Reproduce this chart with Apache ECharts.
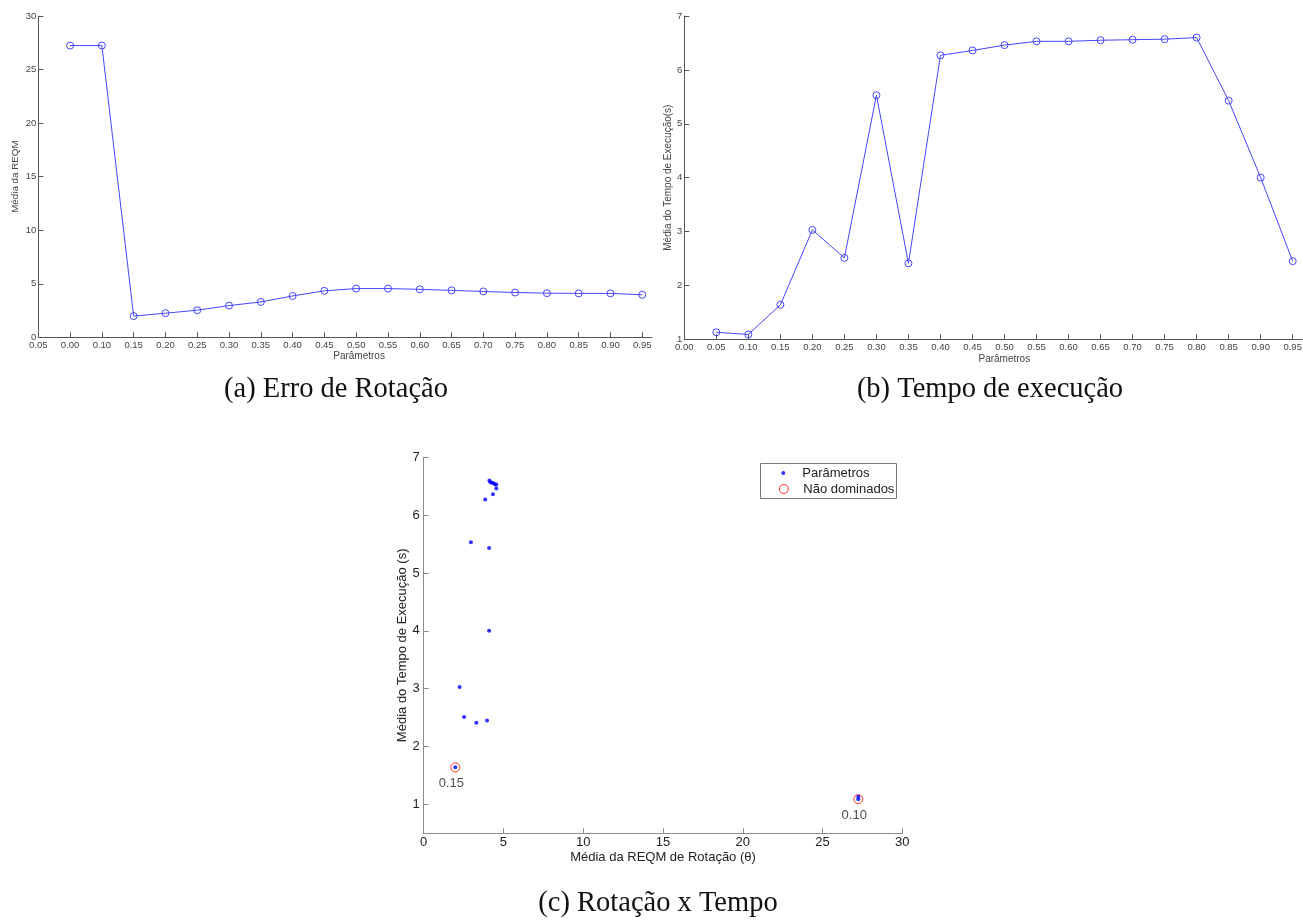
<!DOCTYPE html>
<html>
<head>
<meta charset="utf-8">
<script src="https://cdn.jsdelivr.net/npm/echarts@6/dist/echarts.min.js"></script>
<style>
html,body{margin:0;padding:0;background:#fff;}
#chart{width:1303px;height:922px;}
</style>
</head>
<body>
<div id="chart"></div>
<script>
// ---- data ----
var params = ['0.05','0.10','0.15','0.20','0.25','0.30','0.35','0.40','0.45','0.50',
              '0.55','0.60','0.65','0.70','0.75','0.80','0.85','0.90','0.95'];
var reqm = [27.24, 27.24, 1.98, 2.25, 2.53, 2.96, 3.3, 3.86, 4.34, 4.55,
            4.55, 4.48, 4.38, 4.28, 4.18, 4.12, 4.1, 4.1, 3.97];
var tempo = [1.13, 1.09, 1.64, 3.03, 2.51, 5.53, 2.41, 6.27, 6.36, 6.46,
             6.53, 6.53, 6.55, 6.56, 6.57, 6.60, 5.43, 4.00, 2.45];
var labelsA = ['0.05','0.00','0.10','0.15','0.20','0.25','0.30','0.35','0.40','0.45',
               '0.50','0.55','0.60','0.65','0.70','0.75','0.80','0.85','0.90','0.95'];
var labelsB = ['0.00','0.05','0.10','0.15','0.20','0.25','0.30','0.35','0.40','0.45',
               '0.50','0.55','0.60','0.65','0.70','0.75','0.80','0.85','0.90','0.95'];
var nonDominated = ['0.10','0.15'];
var captions = ['(a) Erro de Rotação','(b) Tempo de execução','(c) Rotação x Tempo'];

// ---- build ----
var tickPos = labelsA.map(function(_, i){ return i; });
var lineA = reqm.map(function(v, i){ return [i + 1, v]; });
var lineB = tempo.map(function(v, i){ return [i + 1, v]; });
var scatterAll = reqm.map(function(v, i){ return [v, tempo[i]]; });
var scatterND = nonDominated.map(function(p){
  var i = params.indexOf(p);
  return { value: [reqm[i], tempo[i]], name: p };
});

var SANS = 'Liberation Sans, Arial, sans-serif';
var smallText = { fontFamily: SANS, fontSize: 9.5, color: '#444' };
var bigText = { fontFamily: SANS, fontSize: 13, color: '#222' };
var LINE_BLUE = '#4646ff';

function smallX(labels, nameShift){
  return {
    type: 'value', min: 0, max: 19.3,
    axisLine: { lineStyle: { color: '#555', width: 1 } },
    axisTick: { inside: true, length: 5, customValues: tickPos, lineStyle: { color: '#555' } },
    axisLabel: Object.assign({ margin: 3, customValues: tickPos,
      formatter: function(v){ return labels[Math.round(v)]; } }, smallText),
    splitLine: { show: false },
    name: 'Parâmetros', nameLocation: 'middle', nameGap: 14,
    nameTextStyle: { fontFamily: SANS, fontSize: 10, color: '#444', padding: [0, 0, 0, nameShift] }
  };
}

function lineSeries(idx, data){
  return {
    type: 'line', xAxisIndex: idx, yAxisIndex: idx, data: data,
    symbol: 'circle', symbolSize: 7,
    lineStyle: { color: LINE_BLUE, width: 1 },
    itemStyle: { color: 'rgba(255,255,255,0)', borderColor: LINE_BLUE, borderWidth: 1 }
  };
}

var option = {
  backgroundColor: '#fff',
  animation: false,
  grid: [
    { left: 38.3, top: 16, width: 613.5, height: 321.3, outerBoundsMode: 'none', containLabel: false },
    { left: 684.3, top: 16, width: 618, height: 323.3, outerBoundsMode: 'none', containLabel: false },
    { left: 423.7, top: 457.3, width: 478.6, height: 376, outerBoundsMode: 'none', containLabel: false }
  ],
  xAxis: [
    Object.assign(smallX(labelsA, 28), { gridIndex: 0 }),
    Object.assign(smallX(labelsB, 22), { gridIndex: 1, nameGap: 15 }),
    {
      gridIndex: 2, type: 'value', min: 0, max: 30, interval: 5,
      axisLine: { lineStyle: { color: '#8c8c8c', width: 1 } },
      axisTick: { inside: true, length: 5, lineStyle: { color: '#8c8c8c' } },
      axisLabel: Object.assign({ margin: 3 }, bigText),
      splitLine: { show: false },
      name: 'Média da REQM de Rotação (θ)', nameLocation: 'middle', nameGap: 18,
      nameTextStyle: bigText
    }
  ],
  yAxis: [
    {
      gridIndex: 0, type: 'value', min: 0, max: 30, interval: 5,
      axisLine: { show: true, lineStyle: { color: '#555', width: 1 } },
      axisTick: { show: true, inside: true, length: 5, lineStyle: { color: '#555' } },
      axisLabel: Object.assign({ margin: 2 }, smallText),
      splitLine: { show: false },
      name: 'Média da REQM', nameLocation: 'middle', nameGap: 18,
      nameTextStyle: { fontFamily: SANS, fontSize: 9.8, color: '#444' }
    },
    {
      gridIndex: 1, type: 'value', min: 1, max: 7, interval: 1,
      axisLine: { show: true, lineStyle: { color: '#555', width: 1 } },
      axisTick: { show: true, inside: true, length: 5, lineStyle: { color: '#555' } },
      axisLabel: Object.assign({ margin: 2 }, smallText),
      splitLine: { show: false },
      name: 'Média do Tempo de Execução(s)', nameLocation: 'middle', nameGap: 11,
      nameTextStyle: { fontFamily: SANS, fontSize: 10, color: '#444' }
    },
    {
      gridIndex: 2, type: 'value', min: 0.5, max: 7,
      axisLine: { show: true, lineStyle: { color: '#8c8c8c', width: 1 } },
      axisTick: { show: true, inside: true, length: 5, customValues: [1,2,3,4,5,6,7], lineStyle: { color: '#8c8c8c' } },
      axisLabel: Object.assign({ margin: 4, customValues: [1,2,3,4,5,6,7] }, bigText),
      splitLine: { show: false },
      name: 'Média do Tempo de Execução (s)', nameLocation: 'middle', nameGap: 15,
      nameTextStyle: bigText
    }
  ],
  legend: [
    {
      data: [{ name: 'Parâmetros', icon: 'circle', itemStyle: { color: '#0000ff' } }],
      left: 781.3, top: 466, orient: 'vertical', padding: 0,
      itemWidth: 4, itemHeight: 4, selectedMode: false,
      textStyle: { fontFamily: SANS, fontSize: 13, color: '#222', lineHeight: 14, padding: [0, 0, 0, 12] }
    },
    {
      data: [{ name: 'Não dominados', icon: 'circle',
               itemStyle: { color: 'rgba(255,255,255,0)', borderColor: '#ff0000', borderWidth: 1 } }],
      left: 778.8, top: 482, orient: 'vertical', padding: 0,
      itemWidth: 9, itemHeight: 9, selectedMode: false,
      textStyle: { fontFamily: SANS, fontSize: 13, color: '#222', lineHeight: 14, padding: [0, 0, 0, 10] }
    }
  ],
  graphic: [
    { type: 'rect', shape: { x: 760.5, y: 463.5, width: 136, height: 35 },
      style: { fill: 'none', stroke: '#777', lineWidth: 1 }, z: 0 },
    { type: 'text', x: 336, y: 390, style: { text: captions[0], font: '28.5px "Liberation Serif", serif', fill: '#111', textAlign: 'center', textVerticalAlign: 'middle' } },
    { type: 'text', x: 990, y: 390, style: { text: captions[1], font: '28.5px "Liberation Serif", serif', fill: '#111', textAlign: 'center', textVerticalAlign: 'middle' } },
    { type: 'text', x: 658, y: 904, style: { text: captions[2], font: '28.5px "Liberation Serif", serif', fill: '#111', textAlign: 'center', textVerticalAlign: 'middle' } }
  ],
  series: [
    lineSeries(0, lineA),
    lineSeries(1, lineB),
    {
      name: 'Não dominados', type: 'scatter', xAxisIndex: 2, yAxisIndex: 2, data: scatterND,
      symbol: 'circle', symbolSize: 9, z: 2,
      itemStyle: { color: 'rgba(255,255,255,0)', borderColor: '#ff0000', borderWidth: 1 },
      label: { show: true, position: 'bottom', distance: 5, offset: [-4, 0],
        formatter: function(p){ return p.name; }, fontFamily: SANS, fontSize: 13, color: '#222' }
    },
    {
      name: 'Parâmetros', type: 'scatter', xAxisIndex: 2, yAxisIndex: 2, data: scatterAll,
      symbol: 'circle', symbolSize: 4, z: 3,
      itemStyle: { color: '#0000ff' }
    }
  ]
};

var chart = echarts.init(document.getElementById('chart'), null, { renderer: 'canvas' });
chart.setOption(option);
</script>
</body>
</html>
